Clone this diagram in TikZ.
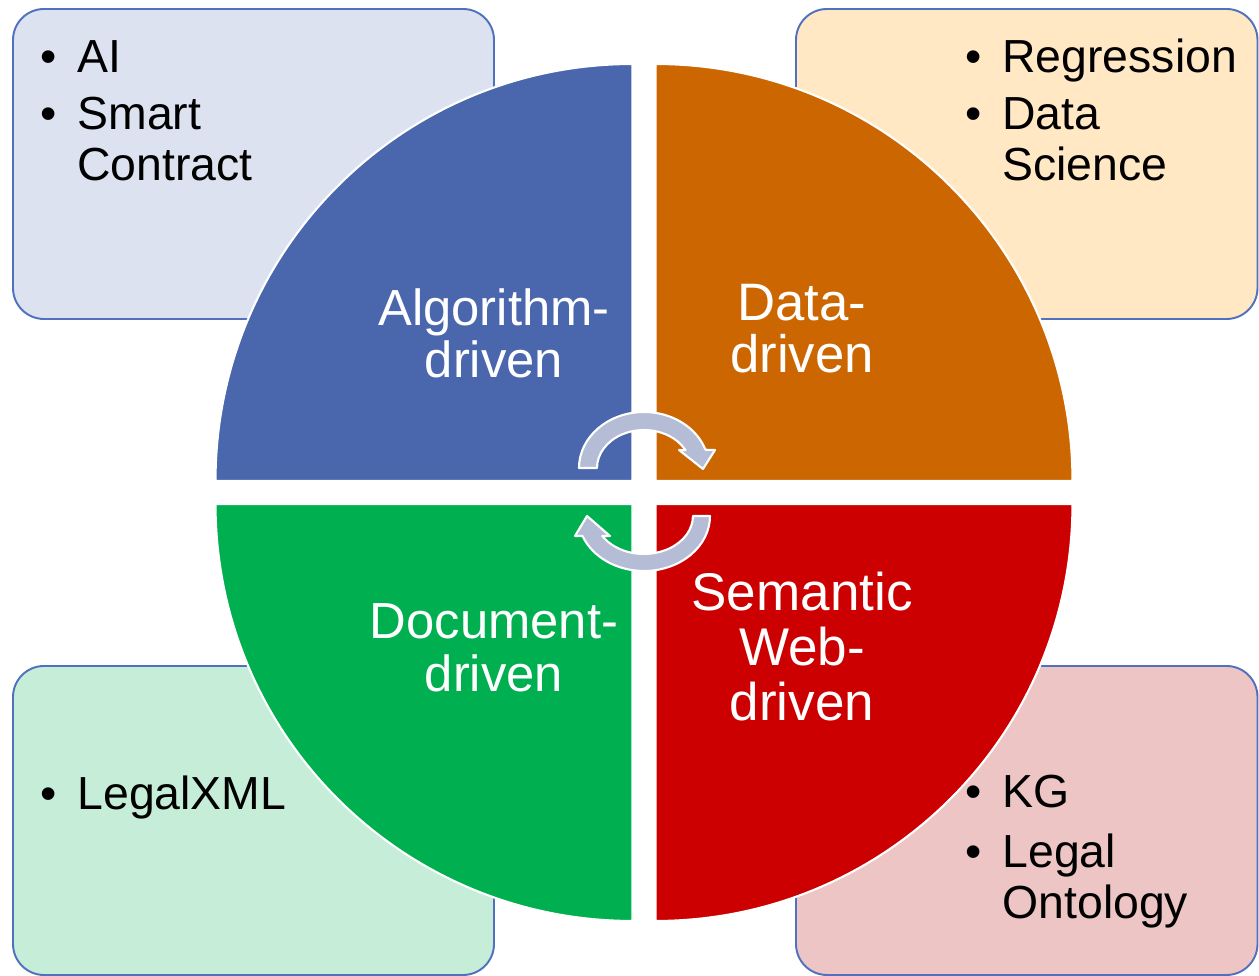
\documentclass[tikz,border=0pt]{standalone}
\usepackage{fontspec}
\setmainfont{Liberation Sans}

\definecolor{algoblue}{HTML}{4A66AC}
\definecolor{dataorange}{HTML}{CC6600}
\definecolor{docgreen}{HTML}{00B050}
\definecolor{semred}{HTML}{CC0000}
\definecolor{algofill}{HTML}{DCE2F0}
\definecolor{datafill}{HTML}{FFE8C3}
\definecolor{docfill}{HTML}{C6EDD8}
\definecolor{semfill}{HTML}{EDC5C5}
\definecolor{boxline}{HTML}{4F71BE}
\definecolor{cyclegray}{HTML}{B4BCD6}

\tikzset{
  infobox/.style={draw=boxline, line width=1.1pt, rounded corners=0.62cm},
  quadrant/.style={draw=white, line width=1.2pt},
  qlabel/.style={text=white, align=center, inner sep=0pt,
    font=\fontsize{28.9}{30}\selectfont},
  blist/.style={anchor=base west, inner sep=0pt,
    font=\fontsize{26.4}{28.9}\selectfont},
  cyclearrow/.style={fill=cyclegray, draw=white, line width=1.2pt, line join=round}
}

\begin{document}
\begin{tikzpicture}[x=0.02cm, y=0.02cm]
  \useasboundingbox (0,0) rectangle (1259,976);

  % boxes behind the circle
  \draw[infobox, fill=algofill] (13,657) rectangle (494,967);
  \draw[infobox, fill=datafill] (796,657) rectangle (1257.5,967);
  \draw[infobox, fill=docfill] (13,1) rectangle (494,310);
  \draw[infobox, fill=semfill] (796,1) rectangle (1257.5,310);

  % the four quarters
  \filldraw[quadrant, fill=algoblue] (632.5,495) -- (215.5,495) arc[start angle=180, end angle=90, radius=417] -- cycle;
  \filldraw[quadrant, fill=dataorange] (655.5,495) -- (655.5,912) arc[start angle=90, end angle=0, radius=417] -- cycle;
  \filldraw[quadrant, fill=docgreen] (632.5,472) -- (632.5,55) arc[start angle=270, end angle=180, radius=417] -- cycle;
  \filldraw[quadrant, fill=semred] (655.5,472) -- (1072.5,472) arc[start angle=0, end angle=-90, radius=417] -- cycle;

  % cycle arrows
  \filldraw[cyclearrow] (579,508) arc[start angle=180, end angle=19, x radius=65, y radius=56]
    -- (715,526) -- (703,507) -- (679,526)
    -- (685.5,525.8) arc[start angle=28, end angle=180, x radius=47, y radius=38] -- cycle;
  \filldraw[cyclearrow] (710,460) arc[start angle=0, end angle=-158.7, x radius=66, y radius=55]
    -- (575,440) -- (587,460) -- (610,440)
    -- (602.3,440) arc[start angle=-148.2, end angle=0, x radius=49, y radius=38] -- cycle;

  % quarter labels
  \node[qlabel] (algolabel) at (494,642.5) {Algorithm-\\driven};
  \node[qlabel, font=\fontsize{30}{29.5}\selectfont] (datalabel) at (802,647) {Data-\\driven};
  \node[qlabel] (doclabel) at (494,328) {Document-\\driven};
  \node[qlabel, font=\fontsize{30.2}{31.2}\selectfont] (semlabel) at (802,329.5) {Semantic\\Web-\\driven};

  % bullet lists
  \node[blist] (algolist) at (40,903.3) {\begin{tabular}[t]{@{}c@{\hspace{11.9pt}}l@{}}\textbullet & AI\\[3.4pt] \textbullet & Smart\\ & Contract\end{tabular}};
  \node[blist] (datalist) at (965,903.3) {\begin{tabular}[t]{@{}c@{\hspace{11.9pt}}l@{}}\textbullet & Regression\\[3.4pt] \textbullet & Data\\ & Science\end{tabular}};
  \node[blist] (doclist) at (40,166) {\begin{tabular}[t]{@{}c@{\hspace{11.9pt}}l@{}}\textbullet & LegalXML\end{tabular}};
  \node[blist] (semlist) at (965,168) {\begin{tabular}[t]{@{}c@{\hspace{11.9pt}}l@{}}\textbullet & KG\\[5pt] \textbullet & Legal\\ & Ontology\end{tabular}};
\end{tikzpicture}
\end{document}
